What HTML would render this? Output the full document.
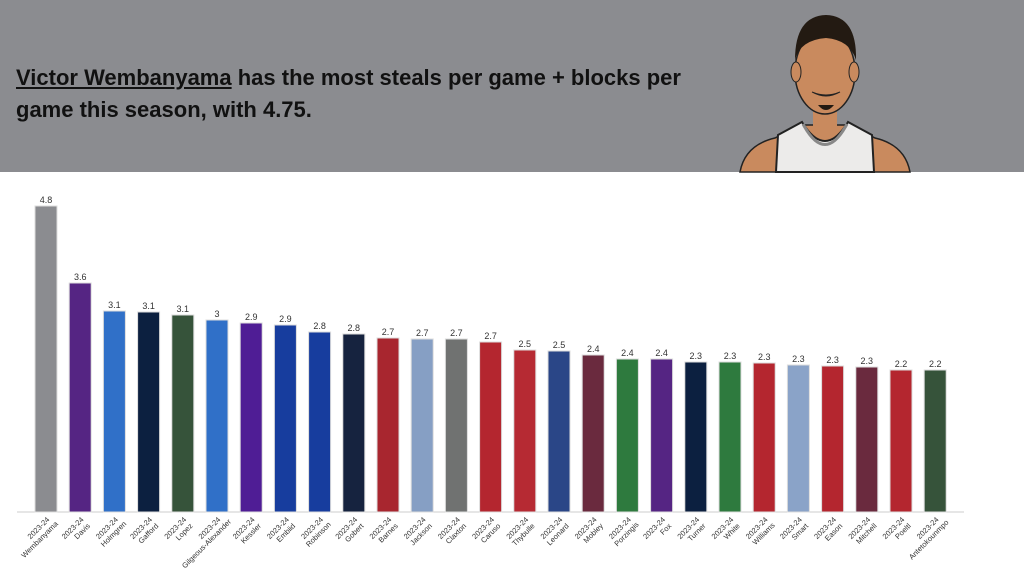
<!DOCTYPE html>
<html><head><meta charset="utf-8"><style>
body{margin:0;width:1024px;height:580px;overflow:hidden;background:#fff;font-family:"Liberation Sans",sans-serif}
.hdr{position:absolute;left:0;top:0;width:1024px;height:172px;background:#8b8c90}
.t{position:absolute;left:16px;top:62px;font-size:22px;font-weight:bold;line-height:32px;color:#111;width:720px}
.t u{text-decoration:underline}
svg{position:absolute;left:0;top:0}
</style></head><body>
<div class="hdr"></div>
<div class="t"><u>Victor Wembanyama</u> has the most steals per game + blocks per game this season, with 4.75.</div>
<svg width="1024" height="580">
<!-- avatar -->
<g>
<path d="M740 172 Q745 145 775 138 L800 125 L850 125 L875 138 Q905 145 910 172 Z" fill="#c98a5e" stroke="#222" stroke-width="1.5"/>
<path d="M776 172 L778 135 L802 122 Q825 160 848 122 L872 135 L874 172 Z" fill="#ecebea" stroke="#222" stroke-width="2"/>
<path d="M803 124 Q825 165 847 124" fill="none" stroke="#888" stroke-width="3"/>
<rect x="813" y="95" width="24" height="35" fill="#c98a5e"/>
<ellipse cx="825" cy="72" rx="30" ry="42" fill="#c98a5e" stroke="#222" stroke-width="1.5"/>
<ellipse cx="796" cy="72" rx="5" ry="10" fill="#c98a5e" stroke="#222"/>
<ellipse cx="854" cy="72" rx="5" ry="10" fill="#c98a5e" stroke="#222"/>
<path d="M795 60 Q795 16 826 15 Q857 16 856 60 Q850 40 826 38 Q800 40 795 60Z" fill="#231a12"/>
<path d="M812 92 Q826 100 840 92 Q826 98 812 92" fill="#fff" stroke="#222"/>
<path d="M818 105 Q826 115 834 105 Z" fill="#231a12"/>
</g>
<line x1="17" y1="512" x2="964" y2="512" stroke="#ccc" stroke-width="1"/>
<g stroke="#ddd" stroke-width="1">
<rect x="35" y="206" width="22" height="306" fill="#8b8c90"/>
<rect x="69.2" y="283" width="22" height="229" fill="#552583"/>
<rect x="103.4" y="311" width="22" height="201" fill="#3070c8"/>
<rect x="137.6" y="312" width="22" height="200" fill="#0c2040"/>
<rect x="171.8" y="315" width="22" height="197" fill="#36533a"/>
<rect x="206" y="320" width="22" height="192" fill="#3070c8"/>
<rect x="240.2" y="323" width="22" height="189" fill="#4f1d95"/>
<rect x="274.4" y="325" width="22" height="187" fill="#173d9e"/>
<rect x="308.6" y="332" width="22" height="180" fill="#173d9e"/>
<rect x="342.8" y="334" width="22" height="178" fill="#16233f"/>
<rect x="377" y="338" width="22" height="174" fill="#a8262f"/>
<rect x="411.2" y="339" width="22" height="173" fill="#869fc4"/>
<rect x="445.4" y="339" width="22" height="173" fill="#707271"/>
<rect x="479.6" y="342" width="22" height="170" fill="#b4262f"/>
<rect x="513.8" y="350" width="22" height="162" fill="#b62a33"/>
<rect x="548" y="351" width="22" height="161" fill="#2a4687"/>
<rect x="582.2" y="355" width="22" height="157" fill="#6a2a3e"/>
<rect x="616.4" y="359" width="22" height="153" fill="#2e7a3e"/>
<rect x="650.6" y="359" width="22" height="153" fill="#552583"/>
<rect x="684.8" y="362" width="22" height="150" fill="#0c2040"/>
<rect x="719" y="362" width="22" height="150" fill="#2e7a3e"/>
<rect x="753.2" y="363" width="22" height="149" fill="#b4262f"/>
<rect x="787.4" y="365" width="22" height="147" fill="#8aa3c8"/>
<rect x="821.6" y="366" width="22" height="146" fill="#b4262f"/>
<rect x="855.8" y="367" width="22" height="145" fill="#6a2a3e"/>
<rect x="890" y="370" width="22" height="142" fill="#b4262f"/>
<rect x="924.2" y="370" width="22" height="142" fill="#36533a"/>
</g>
<g font-size="9" fill="#333" text-anchor="middle">
<text x="46" y="203">4.8</text><text x="80.2" y="280">3.6</text><text x="114.4" y="308">3.1</text><text x="148.6" y="309">3.1</text><text x="182.8" y="312">3.1</text><text x="217" y="317">3</text><text x="251.2" y="320">2.9</text><text x="285.4" y="322">2.9</text><text x="319.6" y="329">2.8</text><text x="353.8" y="331">2.8</text><text x="388" y="335">2.7</text><text x="422.2" y="336">2.7</text><text x="456.4" y="336">2.7</text><text x="490.6" y="339">2.7</text><text x="524.8" y="347">2.5</text><text x="559" y="348">2.5</text><text x="593.2" y="352">2.4</text><text x="627.4" y="356">2.4</text><text x="661.6" y="356">2.4</text><text x="695.8" y="359">2.3</text><text x="730" y="359">2.3</text><text x="764.2" y="360">2.3</text><text x="798.4" y="362">2.3</text><text x="832.6" y="363">2.3</text><text x="866.8" y="364">2.3</text><text x="901" y="367">2.2</text><text x="935.2" y="367">2.2</text>
</g>
<g font-size="7.5" fill="#333" text-anchor="end">
<g transform="translate(50,520) rotate(-45)"><text><tspan x="0" y="0">2023-24</tspan><tspan x="3" dy="9">Wembanyama</tspan></text></g>
<g transform="translate(84.2,520) rotate(-45)"><text><tspan x="0" y="0">2023-24</tspan><tspan x="0" dy="9">Davis</tspan></text></g>
<g transform="translate(118.4,520) rotate(-45)"><text><tspan x="0" y="0">2023-24</tspan><tspan x="3" dy="9">Holmgren</tspan></text></g>
<g transform="translate(152.6,520) rotate(-45)"><text><tspan x="0" y="0">2023-24</tspan><tspan x="0" dy="9">Gafford</tspan></text></g>
<g transform="translate(186.8,520) rotate(-45)"><text><tspan x="0" y="0">2023-24</tspan><tspan x="0" dy="9">Lopez</tspan></text></g>
<g transform="translate(221,520) rotate(-45)"><text><tspan x="0" y="0">2023-24</tspan><tspan x="6" dy="9">Gilgeous-Alexander</tspan></text></g>
<g transform="translate(255.2,520) rotate(-45)"><text><tspan x="0" y="0">2023-24</tspan><tspan x="0" dy="9">Kessler</tspan></text></g>
<g transform="translate(289.4,520) rotate(-45)"><text><tspan x="0" y="0">2023-24</tspan><tspan x="0" dy="9">Embiid</tspan></text></g>
<g transform="translate(323.6,520) rotate(-45)"><text><tspan x="0" y="0">2023-24</tspan><tspan x="2" dy="9">Robinson</tspan></text></g>
<g transform="translate(357.8,520) rotate(-45)"><text><tspan x="0" y="0">2023-24</tspan><tspan x="0" dy="9">Gobert</tspan></text></g>
<g transform="translate(392,520) rotate(-45)"><text><tspan x="0" y="0">2023-24</tspan><tspan x="0" dy="9">Barnes</tspan></text></g>
<g transform="translate(426.2,520) rotate(-45)"><text><tspan x="0" y="0">2023-24</tspan><tspan x="0" dy="9">Jackson</tspan></text></g>
<g transform="translate(460.4,520) rotate(-45)"><text><tspan x="0" y="0">2023-24</tspan><tspan x="0" dy="9">Claxton</tspan></text></g>
<g transform="translate(494.6,520) rotate(-45)"><text><tspan x="0" y="0">2023-24</tspan><tspan x="0" dy="9">Caruso</tspan></text></g>
<g transform="translate(528.8,520) rotate(-45)"><text><tspan x="0" y="0">2023-24</tspan><tspan x="0" dy="9">Thybulle</tspan></text></g>
<g transform="translate(563,520) rotate(-45)"><text><tspan x="0" y="0">2023-24</tspan><tspan x="0" dy="9">Leonard</tspan></text></g>
<g transform="translate(597.2,520) rotate(-45)"><text><tspan x="0" y="0">2023-24</tspan><tspan x="0" dy="9">Mobley</tspan></text></g>
<g transform="translate(631.4,520) rotate(-45)"><text><tspan x="0" y="0">2023-24</tspan><tspan x="2" dy="9">Porzingis</tspan></text></g>
<g transform="translate(665.6,520) rotate(-45)"><text><tspan x="0" y="0">2023-24</tspan><tspan x="0" dy="9">Fox</tspan></text></g>
<g transform="translate(699.8,520) rotate(-45)"><text><tspan x="0" y="0">2023-24</tspan><tspan x="0" dy="9">Turner</tspan></text></g>
<g transform="translate(734,520) rotate(-45)"><text><tspan x="0" y="0">2023-24</tspan><tspan x="0" dy="9">White</tspan></text></g>
<g transform="translate(768.2,520) rotate(-45)"><text><tspan x="0" y="0">2023-24</tspan><tspan x="1" dy="9">Williams</tspan></text></g>
<g transform="translate(802.4,520) rotate(-45)"><text><tspan x="0" y="0">2023-24</tspan><tspan x="0" dy="9">Smart</tspan></text></g>
<g transform="translate(836.6,520) rotate(-45)"><text><tspan x="0" y="0">2023-24</tspan><tspan x="0" dy="9">Eason</tspan></text></g>
<g transform="translate(870.8,520) rotate(-45)"><text><tspan x="0" y="0">2023-24</tspan><tspan x="0" dy="9">Mitchell</tspan></text></g>
<g transform="translate(905,520) rotate(-45)"><text><tspan x="0" y="0">2023-24</tspan><tspan x="0" dy="9">Poeltl</tspan></text></g>
<g transform="translate(939.2,520) rotate(-45)"><text><tspan x="0" y="0">2023-24</tspan><tspan x="5" dy="9">Antetokounmpo</tspan></text></g>
</g>
</svg>
</body></html>
